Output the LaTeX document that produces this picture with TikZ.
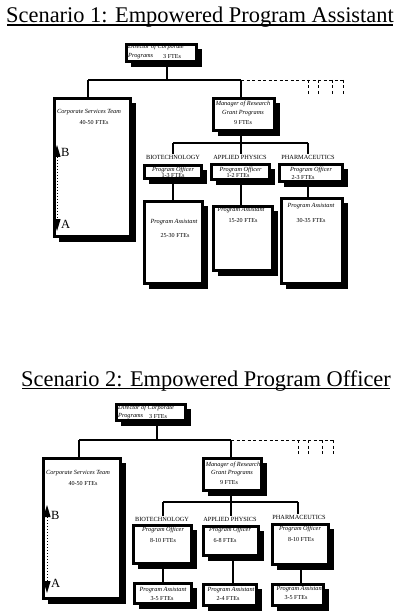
\documentclass[tikz,border=0pt]{standalone}
\usepackage{fontspec}
\setmainfont{Liberation Serif}
\usetikzlibrary{shadows,arrows.meta,calc}
\newcommand\obox[5]{\node[obox, minimum width={(#4-#2-2.6)*1pt}, minimum height={(#5-#3-2.6)*1pt}] (#1) at ({#2+1.3},{#3+1.3}) {};}
\begin{document}
\begin{tikzpicture}[x=1pt,y=-1pt,
  obox/.style={draw, line width=2.6pt, fill=white, inner sep=0pt, outer sep=0pt, anchor=north west,
    drop shadow={shadow xshift=5pt, shadow yshift=-5pt, opacity=1, fill=black}},
  conn/.style={line width=2pt},
  dconn/.style={line width=0.8pt, dash pattern=on 3pt off 2.5pt},
  it/.style={font=\fontsize{6.3}{6.5}\selectfont\itshape, inner sep=0pt},
  txt/.style={font=\fontsize{6.1}{6.5}\selectfont, inner sep=0pt},
  lbl/.style={font=\fontsize{6.3}{6.5}\selectfont, inner sep=0.5pt},
  ttl/.style={font=\fontsize{22.4}{24}\selectfont, inner sep=0pt, anchor=base},
  letter/.style={font=\fontsize{12.5}{12.5}\selectfont, inner sep=0pt, anchor=west},
  ab/.style={dotted, line width=1pt, {Triangle[length=12pt,width=7pt]}-{Triangle[length=12pt,width=7pt]}}
]
\useasboundingbox (0,0) rectangle (400,612);

%% ---------------- Scenario 1 ----------------
\node[ttl] (t1) at (200,22.5) {Scenario 1: Empowered Program Assistant};
\coordinate (u1L) at (7,24);
\coordinate (u1R) at (393,25.6);
\fill[black] (u1L) rectangle (u1R);

\obox{Dir1}{125}{43}{198}{63}
\obox{CST1}{53}{97}{132}{238}
\obox{Mgr1}{212}{97}{276}{132}
\obox{PO1a}{143}{164}{203}{180}
\obox{PO1b}{210}{163}{271}{181}
\obox{PO1c}{278}{163}{344}{183}
\obox{PA1a}{143}{200}{204}{285}
\obox{PA1b}{212}{205}{274}{272}
\obox{PA1c}{280}{197}{344}{285}

\node[it, anchor=west] (d1a) at (128,46.5) {Director of Corporate};
\node[it, anchor=west] (d1b) at (128,56) {Programs};
\node[txt, anchor=west] (d1c) at (163,56.5) {3 FTEs};

\node[it] (c1t) at (89,112) {Corporate Services Team};
\node[txt] (c1n) at (94,123) {40-50 FTEs};
\draw[ab] (57,145) -- (57,231);
\node[letter] (B1) at (61,152) {B};
\node[letter] (A1) at (61,224) {A};

\node[it] (m1a) at (243,104) {Manager of Research};
\node[it] (m1b) at (243,113) {Grant Programs};
\node[txt] (m1c) at (243,123) {9 FTEs};

\node[lbl] (lab1a) at (173,157) {BIOTECHNOLOGY};
\node[lbl] (lab1b) at (240,157) {APPLIED PHYSICS};
\node[lbl] (lab1c) at (308,157) {PHARMACEUTICS};

\node[it] (p1a) at (173,169.5) {Program Officer};
\node[txt] (p1an) at (173,176) {1-3 FTEs};
\node[it] (p1b) at (240.5,169.5) {Program Officer};
\node[txt] (p1bn) at (238,176) {1-2 FTEs};
\node[it] (p1c) at (311,169.5) {Program Officer};
\node[txt] (p1cn) at (303,178) {2-3 FTEs};

\node[it] (a1a) at (174,222) {Program Assistant};
\node[txt] (a1an) at (175,236) {25-30 FTEs};
\node[it] (a1b) at (241,210.5) {Program Assistant};
\node[txt] (a1bn) at (243,221) {15-20 FTEs};
\node[it] (a1c) at (311,206) {Program Assistant};
\node[txt] (a1cn) at (311,221) {30-35 FTEs};

\coordinate (b1L) at (88,80);
\coordinate (b1M) at (167,80);
\coordinate (b1R) at (241,80);
\coordinate (b1E) at (343,80);
\draw[conn] (b1L) -- (b1R);
\draw[conn] (b1M) -- (b1M |- Dir1.south);
\draw[conn] (b1L) -- (b1L |- CST1.north);
\draw[conn] (b1R) -- (b1R |- Mgr1.north);
\draw[dconn] (b1R) -- (b1E);
\foreach \t in {308,318,332,343} \draw[dconn] (\t,80) -- (\t,95);

\coordinate (c1a) at (173,143);
\coordinate (c1b) at (241,143);
\coordinate (c1c) at (308,143);
\draw[conn] (c1a) -- (c1c);
\draw[conn] (c1b) -- (c1b |- Mgr1.south);
\draw[conn] (c1a) -- (lab1a.north);
\draw[conn] (c1b) -- (c1b |- lab1b.north);
\draw[conn] (c1c) -- (lab1c.north);
\draw[conn] (PO1a.south) -- (PO1a.south |- PA1a.north);
\draw[conn] ([xshift=0.5pt]PO1b.south) -- ([xshift=0.5pt]PO1b.south |- PA1b.north);
\draw[conn] ([xshift=-3pt]PO1c.south) -- ([xshift=-3pt]PO1c.south |- PA1c.north);

%% ---------------- Scenario 2 ----------------
\node[ttl] (t2) at (206,386) {Scenario 2: Empowered Program Officer};
\coordinate (u2L) at (22,387.8);
\coordinate (u2R) at (390,389.4);
\fill[black] (u2L) rectangle (u2R);

\obox{Dir2}{115}{403}{187}{422}
\obox{CST2}{42}{457}{122}{600}
\obox{Mgr2}{202}{457}{263}{492}
\obox{PO2a}{132}{524}{193}{565}
\obox{PO2b}{202}{525}{260}{557}
\obox{PO2c}{271}{523}{330}{566}
\obox{PA2a}{133}{582}{193}{605}
\obox{PA2b}{202}{583}{258}{607}
\obox{PA2c}{271}{583}{325}{607}

\node[it, anchor=west] (d2a) at (118,408) {Director of Corporate};
\node[it, anchor=west] (d2b) at (118,416.5) {Programs};
\node[txt, anchor=west] (d2c) at (149,417) {3 FTEs};

\node[it] (c2t) at (78,473) {Corporate Services Team};
\node[txt] (c2n) at (83,483) {40-50 FTEs};
\draw[ab] (47,505) -- (47,593);
\node[letter] (B2) at (51,515) {B};
\node[letter] (A2) at (51,583) {A};

\node[it] (m2a) at (233,465) {Manager of Research};
\node[it] (m2b) at (232,473) {Grant Programs};
\node[txt] (m2c) at (229,483) {9 FTEs};

\node[lbl] (lab2a) at (162,519) {BIOTECHNOLOGY};
\node[lbl] (lab2b) at (230,519) {APPLIED PHYSICS};
\node[lbl] (lab2c) at (299,517) {PHARMACEUTICS};

\node[it] (p2a) at (163,530) {Program Officer};
\node[txt] (p2an) at (163,540) {8-10 FTEs};
\node[it] (p2b) at (230,530) {Program Officer};
\node[txt] (p2bn) at (225,540) {6-8 FTEs};
\node[it] (p2c) at (300,529) {Program Officer};
\node[txt] (p2cn) at (301,539) {8-10 FTEs};

\node[it] (a2a) at (163,590) {Program Assistant};
\node[txt] (a2an) at (162,599) {3-5 FTEs};
\node[it] (a2b) at (231,590) {Program Assistant};
\node[txt] (a2bn) at (228,599) {2-4 FTEs};
\node[it] (a2c) at (300,589) {Program Assistant};
\node[txt] (a2cn) at (296,598) {3-5 FTEs};

\coordinate (b2L) at (79,440);
\coordinate (b2M) at (157,440);
\coordinate (b2R) at (231,440);
\coordinate (b2E) at (333,440);
\draw[conn] (b2L) -- (b2R);
\draw[conn] (b2M) -- (b2M |- Dir2.south);
\draw[conn] (b2L) -- (b2L |- CST2.north);
\draw[conn] (b2R) -- (b2R |- Mgr2.north);
\draw[dconn] (b2R) -- (b2E);
\foreach \t in {298,308,322,333} \draw[dconn] (\t,440) -- (\t,455);

\coordinate (c2a) at (163,502);
\coordinate (c2b) at (231,502);
\coordinate (c2c) at (298,502);
\draw[conn] (c2a) -- (c2c);
\draw[conn] (c2b) -- (c2b |- Mgr2.south);
\draw[conn] (c2a) -- (c2a |- lab2a.north);
\draw[conn] (c2b) -- (c2b |- lab2b.north);
\draw[conn] (c2c) -- (c2c |- lab2c.north);
\draw[conn] (PO2a.south) -- (PO2a.south |- PA2a.north);
\draw[conn] ([xshift=2pt]PO2b.south) -- ([xshift=2pt]PO2b.south |- PA2b.north);
\draw[conn] (PO2c.south) -- (PO2c.south |- PA2c.north);
\end{tikzpicture}
\end{document}
